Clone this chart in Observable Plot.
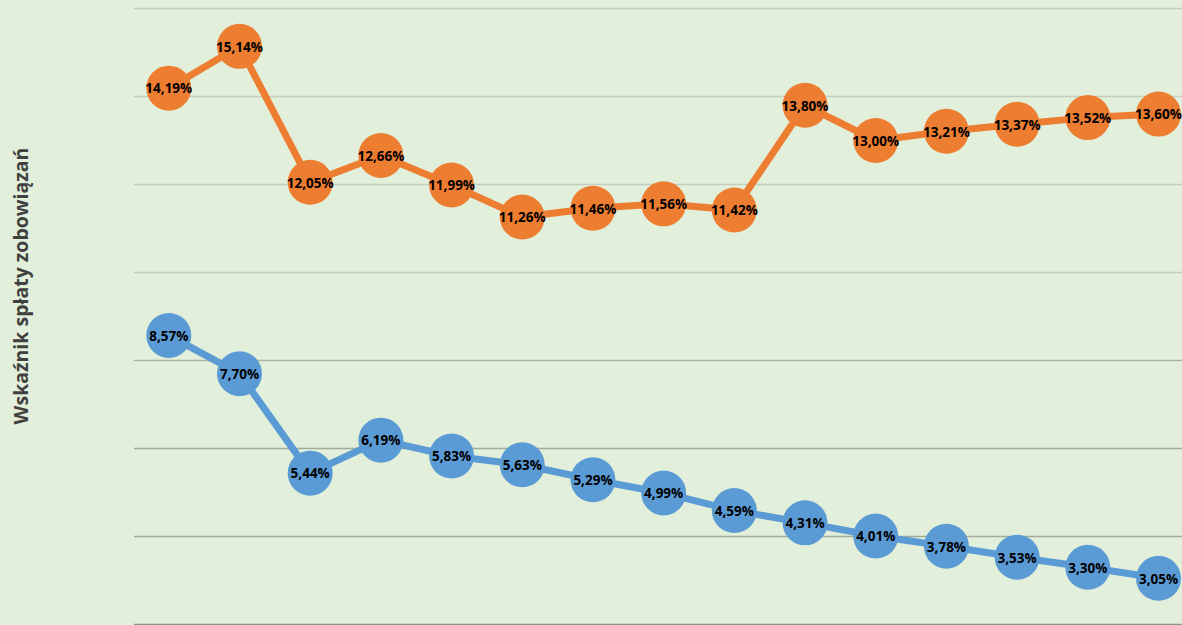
<!DOCTYPE html>
<html>
<head>
<meta charset="utf-8">
<script src="https://cdn.jsdelivr.net/npm/d3@7"></script>
<script src="https://cdn.jsdelivr.net/npm/@observablehq/plot@0.6"></script>
<style>
  html, body { margin: 0; padding: 0; background: #E2EFDA; overflow: hidden; }
  #chart { position: relative; width: 1182px; height: 625px; }
  #ytitle {
    position: absolute; left: 20px; top: 286px;
    transform: translate(-50%, -50%) rotate(-90deg);
    font-family: "Open Sans", sans-serif; font-weight: 700; font-size: 19.5px;
    color: #404040; white-space: nowrap;
  }
</style>
</head>
<body>
<div id="chart"><div id="ytitle">Wskaźnik spłaty zobowiązań</div></div>
<script>
const categories = ["1","2","3","4","5","6","7","8","9","10","11","12","13","14","15"];
const seriesOrange = [14.19, 15.14, 12.05, 12.66, 11.99, 11.26, 11.46, 11.56, 11.42, 13.80, 13.00, 13.21, 13.37, 13.52, 13.60];
const seriesBlue = [8.57, 7.70, 5.44, 6.19, 5.83, 5.63, 5.29, 4.99, 4.59, 4.31, 4.01, 3.78, 3.53, 3.30, 3.05];
const yTicks = [2, 4, 6, 8, 10, 12, 14, 16];
const gridColors = ["#8b9582", "#a2aa9c", "#a2aa9c", "#aeb5a8", "#c5ccc0", "#c5ccc0", "#c5ccc0", "#c5ccc0"];

const data = [
  ...categories.map((c, i) => ({cat: c, v: seriesOrange[i], s: "Seria A"})),
  ...categories.map((c, i) => ({cat: c, v: seriesBlue[i], s: "Seria B"}))
];
const grid = yTicks.map((t, i) => ({t, c: gridColors[i]}));
const fmt = v => v.toFixed(2).replace(".", ",") + "%";

const chart = Plot.plot({
  width: 1182,
  height: 625,
  marginLeft: 134,
  marginRight: 0,
  marginTop: 8,
  marginBottom: 1,
  style: {background: "transparent", overflow: "visible"},
  x: {type: "point", domain: categories, range: [168.3, 1158], padding: 0, round: false, axis: null},
  y: {domain: [2, 16], axis: null},
  color: {domain: ["Seria A", "Seria B"], range: ["#ED7D31", "#5B9BD5"]},
  marks: [
    Plot.ruleY(grid, {y: "t", stroke: d => d.c, strokeWidth: 1.5}),
    Plot.line(data, {x: "cat", y: "v", z: "s", stroke: "s", strokeWidth: 7, strokeLinejoin: "round"}),
    Plot.dot(data, {x: "cat", y: "v", fill: "s", r: 22.5, stroke: "none"}),
    Plot.text(data, {x: "cat", y: "v", text: d => fmt(d.v), fill: "#000", fontWeight: "bold",
      fontSize: 13.5, fontFamily: "Open Sans", dy: 1})
  ]
});
document.getElementById("chart").appendChild(chart);
chart.style.position = "absolute";
chart.style.left = "0";
chart.style.top = "0";
</script>
</body>
</html>
